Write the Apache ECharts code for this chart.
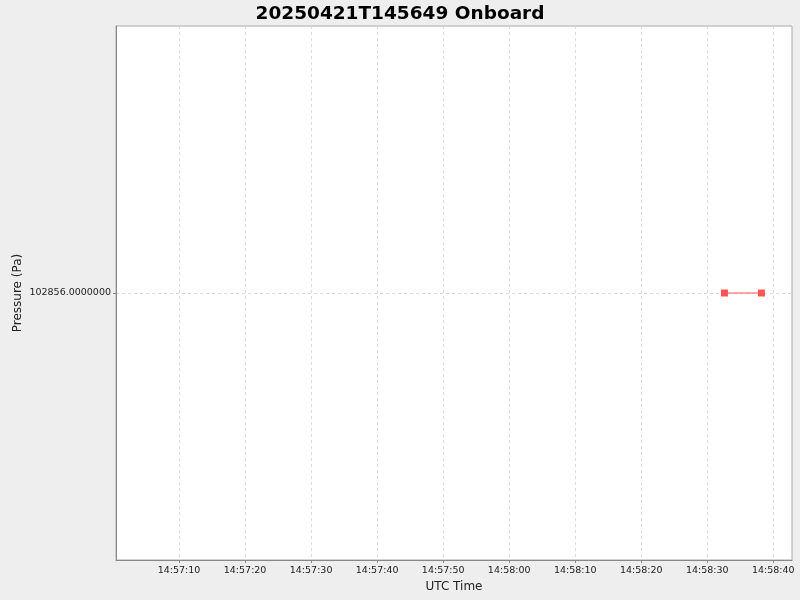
<!DOCTYPE html>
<html>
<head>
<meta charset="utf-8">
<script src="https://cdn.jsdelivr.net/npm/echarts@6/dist/echarts.min.js"></script>
<style>html,body{margin:0;padding:0;background:#eeeeee;}#c{width:800px;height:600px;}</style>
</head>
<body>
<div id="c"></div>
<script>
// Data (UTC times)
const times = ["2025-04-21T14:58:32.6", "2025-04-21T14:58:38.2"];
const pressures = [102856.0, 102856.0];
const xTickLabels = ["14:57:10","14:57:20","14:57:30","14:57:40","14:57:50","14:58:00","14:58:10","14:58:20","14:58:30","14:58:40"];
const yTickValues = [102856.0];
const xRange = ["2025-04-21T14:57:00.45", "2025-04-21T14:58:42.83"];

function toMs(s) { return Date.parse(s + "Z"); }
function pad(n) { return (n < 10 ? "0" : "") + n; }
function fmt(ms) {
  const d = new Date(Math.round(ms / 1000) * 1000);
  return pad(d.getUTCHours()) + ":" + pad(d.getUTCMinutes()) + ":" + pad(d.getUTCSeconds());
}
const xTickValues = xTickLabels.map(t => toMs("2025-04-21T" + t));
const seriesData = times.map((t, i) => [toMs(t), pressures[i]]);

const chart = echarts.init(document.getElementById('c'), null, {renderer: 'canvas'});
chart.setOption({
  backgroundColor: '#eeeeee',
  animation: false,
  title: {
    text: '20250421T145649 Onboard',
    left: 'center',
    top: 0,
    textStyle: {fontFamily: 'DejaVu Sans', fontWeight: 'bold', fontSize: 18.5, color: '#000'}
  },
  grid: {
    left: 116, right: 8, top: 26, bottom: 40,
    outerBoundsMode: 'none',
    containLabel: false,
    show: true, backgroundColor: '#ffffff', borderColor: '#aaaaaa', borderWidth: 1
  },
  xAxis: {
    type: 'value',
    min: toMs(xRange[0]),
    max: toMs(xRange[1]),
    name: 'UTC Time',
    nameLocation: 'middle',
    nameGap: 21,
    nameMoveOverlap: false,
    nameTextStyle: {fontFamily: 'DejaVu Sans', fontSize: 12, color: '#222'},
    axisLine: {show: true, lineStyle: {color: '#888888', width: 1}},
    axisTick: {show: true, length: 3, customValues: xTickValues, lineStyle: {color: '#888888'}},
    axisLabel: {
      customValues: xTickValues,
      formatter: v => fmt(v),
      fontFamily: 'DejaVu Sans', fontSize: 9.5, color: '#222', margin: 6
    },
    splitLine: {show: true, lineStyle: {color: '#dcdcdc', type: [3, 3], width: 1}}
  },
  yAxis: {
    type: 'value',
    min: 102855,
    max: 102857,
    interval: 1,
    name: 'Pressure (Pa)',
    nameLocation: 'middle',
    nameGap: 92,
    nameMoveOverlap: false,
    nameTextStyle: {fontFamily: 'DejaVu Sans', fontSize: 12, color: '#222'},
    axisLine: {show: true, lineStyle: {color: '#888888', width: 1}},
    axisTick: {show: true, length: 3, customValues: yTickValues, lineStyle: {color: '#888888'}},
    axisLabel: {
      customValues: yTickValues,
      formatter: v => v.toFixed(7),
      fontFamily: 'DejaVu Sans', fontSize: 9.5, color: '#222', margin: 5
    },
    splitLine: {show: true, lineStyle: {color: '#dcdcdc', type: [3, 3], width: 1}}
  },
  series: [{
    type: 'line',
    data: seriesData,
    symbol: 'rect',
    symbolSize: 7,
    showAllSymbol: true,
    itemStyle: {color: '#ff5555'},
    lineStyle: {color: '#ff5555', width: 1}
  }]
});
</script>
</body>
</html>
